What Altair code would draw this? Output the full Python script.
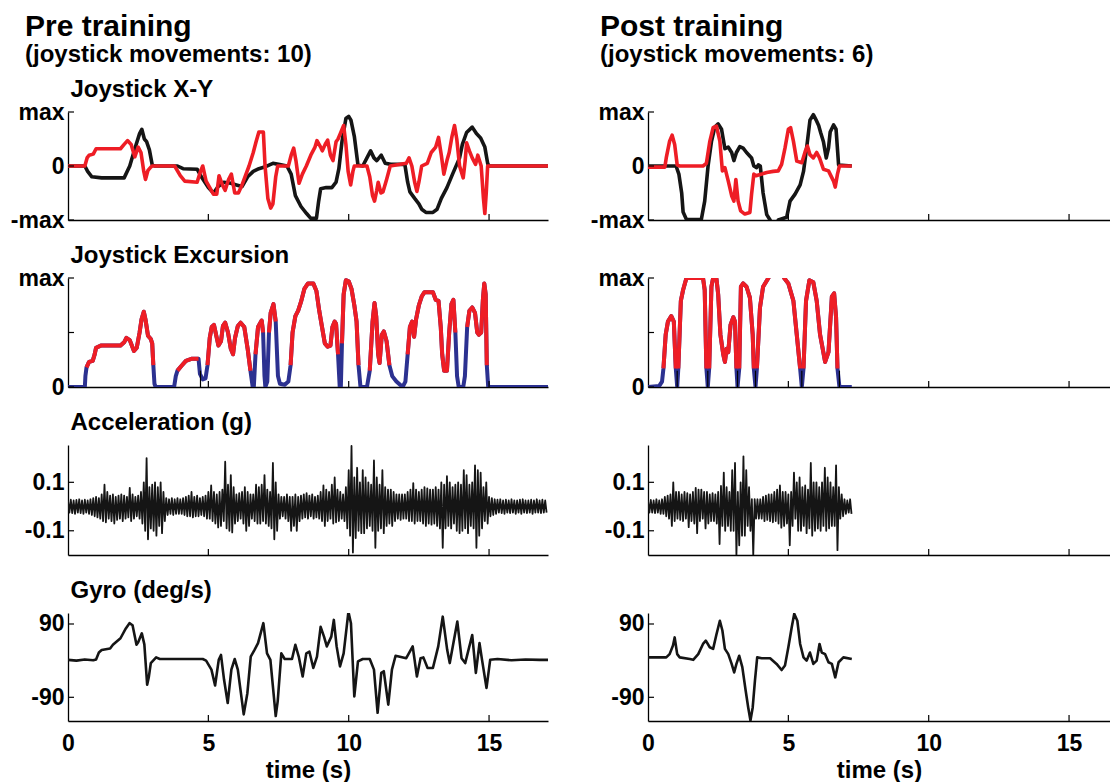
import altair as alt
import pandas as pd

# ---------------- data ----------------
# Joystick X-Y, pre training: black = X, red = Y  (t in s, value in -max..max)
pre_x_t = [0, 0.6, 0.7, 0.85, 1.2, 2.0, 2.2, 2.4, 2.55, 2.63, 2.72, 2.8, 2.9, 3.0, 3.1, 3.9, 4.1, 4.6, 4.75, 5.0,
           5.18, 5.35, 5.55, 5.8, 6.0, 6.2, 6.4, 6.6, 6.8, 7.0, 7.3, 7.5, 7.8, 7.95, 8.1, 8.3, 8.5, 8.65, 8.85, 8.93,
           9.0, 9.2, 9.4, 9.55, 9.65, 9.76, 9.9, 10.0, 10.08, 10.2, 10.33, 10.5, 10.65, 10.78, 10.9, 11.0, 11.16, 11.3,
           11.5, 12.0, 12.1, 12.18, 12.35, 12.5, 12.6, 12.75, 13.0, 13.15, 13.3, 13.5, 13.7, 13.95, 14.05, 14.2, 14.4,
           14.55, 14.7, 14.85, 14.95, 15.0, 17.1]
pre_x_v = [0, 0, -0.1, -0.2, -0.22, -0.22, 0.0, 0.35, 0.6, 0.68, 0.5, 0.45, 0.3, 0.02, 0, 0, -0.05, -0.06, -0.2, -0.4,
           -0.5, -0.38, -0.3, -0.32, -0.35, -0.38, -0.2, -0.1, -0.05, -0.02, 0.05, 0.03, 0.0, -0.15, -0.55, -0.75, -0.88,
           -0.97, -0.97, -0.65, -0.42, -0.4, -0.4, -0.3, -0.05, 0.45, 0.88, 0.92, 0.85, 0.55, 0.02, 0.0, 0.15, 0.28, 0.15,
           0.1, 0.2, 0.05, 0.03, 0.03, -0.3, -0.48, -0.6, -0.7, -0.8, -0.86, -0.86, -0.8, -0.6, -0.4, -0.15, 0.15, 0.4,
           0.62, 0.72, 0.6, 0.52, 0.35, 0.05, 0, 0]
pre_y_t = [0, 0.6, 0.68, 0.75, 0.9, 1.0, 1.87, 2.0, 2.12, 2.25, 2.38, 2.5, 2.6, 2.7, 2.76, 2.85, 2.95, 3.0, 3.8, 4.0,
           4.16, 4.6, 4.72, 4.8, 4.92, 5.05, 5.18, 5.3, 5.38, 5.5, 5.6, 5.72, 5.82, 5.94, 6.07, 6.2, 6.45, 6.6, 6.7,
           6.8, 6.96, 7.02, 7.12, 7.22, 7.3, 7.4, 7.47, 7.85, 7.95, 8.04, 8.12, 8.23, 8.35, 8.49, 8.65, 8.8, 8.87, 9.0,
           9.06, 9.18, 9.25, 9.35, 9.44, 9.55, 9.62, 9.7, 9.82, 9.9, 9.98, 10.07, 10.15, 10.2, 10.65, 10.75, 10.85,
           10.92, 11.0, 11.05, 11.15, 11.22, 11.35, 11.48, 12.05, 12.15, 12.25, 12.35, 12.43, 12.5, 12.6, 12.8, 12.94,
           13.1, 13.2, 13.3, 13.39, 13.5, 13.58, 13.68, 13.77, 13.85, 13.95, 14.08, 14.15, 14.2, 14.3, 14.4, 14.52,
           14.6, 14.72, 14.8, 14.85, 14.9, 14.95, 17.1]
pre_y_v = [0, 0, 0.15, 0.2, 0.22, 0.32, 0.32, 0.4, 0.47, 0.4, 0.17, 0.35, 0.25, -0.1, -0.25, -0.08, -0.02, 0, 0, -0.18,
           -0.28, -0.3, -0.1, 0.0, -0.28, -0.4, -0.52, -0.52, -0.18, -0.35, -0.45, -0.25, -0.15, -0.5, -0.5, -0.35, 0.0,
           0.25, 0.45, 0.63, 0.63, 0.0, -0.6, -0.78, -0.7, -0.2, 0.0, 0.0, 0.2, 0.33, 0.1, -0.32, -0.15, 0.0, 0.2, 0.35,
           0.47, 0.35, 0.28, 0.42, 0.48, 0.2, 0.1, 0.45, 0.5, 0.6, 0.75, 0.4, -0.1, -0.35, -0.1, 0.0, 0.0, -0.2, -0.55,
           -0.65, -0.45, -0.3, -0.5, -0.48, -0.25, 0.0, 0.05, 0.15, 0.0, -0.3, -0.47, -0.3, 0.0, 0.05, 0.25, 0.35, 0.53,
           0.2, -0.15, 0.1, 0.25, 0.55, 0.75, 0.5, 0.0, -0.22, 0.1, 0.43, 0.28, 0.15, 0.03, 0.2, 0.0, -0.6, -0.88, -0.5,
           0.0, 0]

# Joystick X-Y, post training
post_x_t = [0, 1.0, 1.1, 1.2, 1.25, 1.37, 1.9, 2.02, 2.14, 2.26, 2.38, 2.5, 2.62, 2.74, 2.86, 2.98, 3.06, 3.15, 3.27,
            3.39, 3.51, 3.69, 3.77, 3.87, 3.93, 4.0, 4.1, 4.23, 4.35, 4.42, 4.58, 4.64, 4.94, 5.06, 5.24, 5.42, 5.54,
            5.65, 5.77, 5.89, 6.01, 6.08, 6.15, 6.25, 6.35, 6.43, 6.49, 6.61, 6.7, 6.79, 7.26]
post_x_v = [0, 0, -0.15, -0.5, -0.85, -0.99, -0.99, -0.65, 0.0, 0.45, 0.72, 0.78, 0.68, 0.32, 0.35, 0.25, 0.1, 0.25,
            0.36, 0.33, 0.25, 0.15, 0.0, -0.03, 0.02, 0.0, -0.5, -0.9, -1.0, -1.15, -1.15, -1.0, -0.95, -0.65, -0.52,
            -0.35, -0.1, 0.33, 0.85, 0.95, 0.83, 0.75, 0.62, 0.45, 0.15, 0.33, 0.63, 0.76, 0.68, 0.02, 0.0]
post_y_t = [0, 0.6, 0.65, 0.77, 0.86, 0.95, 1.04, 1.13, 1.96, 2.08, 2.2, 2.32, 2.44, 2.56, 2.65, 2.74, 2.86, 2.98,
            3.06, 3.13, 3.21, 3.3, 3.45, 3.63, 3.69, 3.77, 3.85, 4.05, 4.23, 4.46, 4.64, 4.76, 4.88, 5.0, 5.08, 5.18,
            5.3, 5.48, 5.6, 5.68, 5.77, 5.89, 6.01, 6.11, 6.25, 6.43, 6.61, 6.67, 6.75, 6.82, 7.26]
post_y_v = [-0.02, -0.02, 0.15, 0.46, 0.57, 0.4, 0.02, 0.0, 0.0, 0.05, 0.45, 0.71, 0.74, 0.46, -0.09, -0.03, -0.28,
            -0.55, -0.65, -0.25, -0.65, -0.83, -0.89, -0.86, -0.52, -0.15, -0.18, -0.15, -0.12, -0.1, -0.09, 0.03, 0.33,
            0.68, 0.71, 0.46, 0.09, 0.06, 0.27, 0.37, 0.21, 0.15, 0.25, 0.15, -0.06, -0.09, -0.28, -0.39, -0.15, 0.0, 0.0]

# Joystick excursion (0..max)
pre_e_t = [0, 0.6, 0.62, 0.66, 0.75, 0.88, 0.95, 1.0, 1.17, 1.87, 2.0, 2.08, 2.2, 2.35, 2.45, 2.55, 2.62, 2.7, 2.76,
           2.85, 2.95, 3.0, 3.04, 3.08, 3.12, 3.78, 3.84, 3.9, 4.03, 4.2, 4.42, 4.65, 4.7, 4.8, 4.9, 4.97, 5.05, 5.12,
           5.2, 5.3, 5.36, 5.45, 5.52, 5.6, 5.7, 5.8, 5.88, 5.95, 6.05, 6.15, 6.28, 6.4, 6.5, 6.58, 6.62, 6.68, 6.77,
           6.9, 6.95, 7.0, 7.03, 7.1, 7.16, 7.22, 7.32, 7.4, 7.48, 7.55, 7.72, 7.85, 7.93, 8.0, 8.1, 8.2, 8.3, 8.42,
           8.55, 8.74, 8.85, 8.95, 9.05, 9.15, 9.25, 9.35, 9.42, 9.5, 9.55, 9.62, 9.68, 9.72, 9.76, 9.82, 9.9, 10.0,
           10.1, 10.2, 10.28, 10.35, 10.42, 10.65, 10.75, 10.85, 10.92, 10.98, 11.05, 11.1, 11.18, 11.25, 11.35,
           11.45, 11.55, 11.7, 11.92, 12.02, 12.1, 12.18, 12.26, 12.33, 12.4, 12.5, 12.6, 12.7, 13.0, 13.1, 13.2,
           13.28, 13.33, 13.4, 13.5, 13.58, 13.66, 13.73, 13.8, 13.86, 13.92, 14.08, 14.14, 14.22, 14.3, 14.4, 14.5,
           14.58, 14.64, 14.72, 14.78, 14.83, 14.88, 14.92, 14.97, 17.1]
pre_e_v = [0.0, 0.0, 0.1, 0.18, 0.23, 0.24, 0.3, 0.36, 0.38, 0.38, 0.41, 0.45, 0.43, 0.33, 0.36, 0.5, 0.62, 0.69, 0.62,
           0.47, 0.44, 0.4, 0.2, 0.03, 0.0, 0.0, 0.1, 0.15, 0.19, 0.24, 0.26, 0.26, 0.12, 0.07, 0.08, 0.2, 0.45, 0.55,
           0.57, 0.45, 0.38, 0.42, 0.56, 0.59, 0.5, 0.35, 0.3, 0.45, 0.56, 0.59, 0.55, 0.35, 0.15, 0.0, 0.0, 0.3, 0.55,
           0.61, 0.5, 0.1, 0.0, 0.05, 0.5, 0.68, 0.76, 0.6, 0.1, 0.03, 0.02, 0.05, 0.2, 0.5, 0.65, 0.7, 0.78, 0.9, 0.95,
           0.95, 0.88, 0.7, 0.55, 0.4, 0.37, 0.38, 0.55, 0.6, 0.58, 0.3, 0.0, 0.0, 0.4, 0.85, 0.98, 0.97, 0.9, 0.75,
           0.6, 0.2, 0.0, 0.0, 0.15, 0.6, 0.77, 0.65, 0.3, 0.22, 0.48, 0.51, 0.42, 0.2, 0.1, 0.05, 0.0, 0.05, 0.3, 0.55,
           0.6, 0.46, 0.62, 0.75, 0.83, 0.87, 0.87, 0.8, 0.79, 0.55, 0.3, 0.15, 0.15, 0.5, 0.76, 0.8, 0.5, 0.1, 0.0,
           0.0, 0.1, 0.55, 0.7, 0.73, 0.68, 0.5, 0.48, 0.5, 0.8, 0.95, 0.85, 0.2, 0.0, 0.0]
post_e_t = [0, 0.4, 0.5, 0.55, 0.63, 0.71, 0.83, 0.92, 0.99, 1.04, 1.08, 1.17, 1.25, 1.37, 1.96, 2.02, 2.08, 2.13,
            2.18, 2.26, 2.32, 2.44, 2.5, 2.58, 2.68, 2.74, 2.8, 2.86, 2.94, 3.04, 3.1, 3.15, 3.19, 3.25, 3.31, 3.39,
            3.51, 3.63, 3.73, 3.77, 3.83, 3.88, 3.99, 4.1, 4.29, 4.4, 4.75, 4.85, 5.0, 5.18, 5.3, 5.42, 5.48, 5.54,
            5.63, 5.75, 5.89, 6.01, 6.13, 6.31, 6.43, 6.55, 6.63, 6.7, 6.75, 6.82, 7.26]
post_e_v = [0.0, 0.01, 0.05, 0.17, 0.48, 0.6, 0.65, 0.6, 0.17, 0.0, 0.17, 0.79, 0.89, 1.0, 1.0, 0.89, 0.17, 0.0, 0.17,
            0.92, 1.0, 0.99, 0.85, 0.48, 0.3, 0.23, 0.35, 0.32, 0.57, 0.64, 0.6, 0.17, 0.0, 0.17, 0.92, 0.95, 0.92,
            0.82, 0.48, 0.17, 0.0, 0.17, 0.73, 0.92, 1.0, 1.08, 1.08, 1.0, 0.95, 0.79, 0.48, 0.17, 0.0, 0.17, 0.79,
            0.98, 0.96, 0.79, 0.48, 0.23, 0.32, 0.83, 0.86, 0.64, 0.17, 0.0, 0.0]
pre_marks = [4.72]
post_marks = [1.04, 2.13, 3.19, 3.83, 5.48, 6.82]

# Acceleration (g): upper / lower excursion of the trace, one pair per 0.1 s
pre_acc_hi = [0.025, 0.028, 0.025, 0.027, 0.03, 0.025, 0.028, 0.025, 0.03, 0.035,
              0.04, 0.035, 0.05, 0.09, 0.06, 0.045, 0.05, 0.04, 0.045, 0.05,
              0.045, 0.04, 0.077, 0.05, 0.04, 0.045, 0.06, 0.1, 0.2, 0.08,
              0.09, 0.1, 0.08, 0.1, 0.06, 0.035, 0.03, 0.035, 0.03, 0.035,
              0.03, 0.035, 0.04, 0.045, 0.06, 0.04, 0.045, 0.035, 0.04, 0.045,
              0.06, 0.087, 0.06, 0.05, 0.06, 0.07, 0.185, 0.09, 0.13, 0.08,
              0.05, 0.055, 0.06, 0.08, 0.06, 0.05, 0.05, 0.09, 0.08, 0.09,
              0.13, 0.07, 0.06, 0.18, 0.1, 0.05, 0.04, 0.04, 0.05, 0.04,
              0.04, 0.05, 0.04, 0.045, 0.05, 0.055, 0.045, 0.05, 0.04, 0.045,
              0.06, 0.087, 0.07, 0.06, 0.09, 0.12, 0.07, 0.06, 0.05, 0.08,
              0.15, 0.25, 0.12, 0.16, 0.1, 0.15, 0.12, 0.1, 0.09, 0.19,
              0.12, 0.09, 0.15, 0.08, 0.07, 0.07, 0.06, 0.05, 0.05, 0.05,
              0.05, 0.06, 0.07, 0.097, 0.07, 0.06, 0.07, 0.08, 0.075, 0.07,
              0.07, 0.08, 0.07, 0.1, 0.09, 0.125, 0.1, 0.08, 0.09, 0.1,
              0.09, 0.15, 0.13, 0.09, 0.1, 0.17, 0.15, 0.14, 0.08, 0.1,
              0.04, 0.035, 0.03, 0.028, 0.03, 0.025, 0.028, 0.025, 0.03, 0.025,
              0.025, 0.028, 0.03, 0.025, 0.025, 0.028, 0.025, 0.03, 0.025, 0.028, 0.025]
pre_acc_lo = [-0.025, -0.027, -0.03, -0.025, -0.027, -0.03, -0.025, -0.03, -0.035, -0.04,
              -0.045, -0.05, -0.06, -0.065, -0.05, -0.06, -0.07, -0.055, -0.05, -0.06,
              -0.05, -0.045, -0.06, -0.05, -0.04, -0.05, -0.07, -0.1, -0.135, -0.09,
              -0.1, -0.12, -0.08, -0.11, -0.06, -0.035, -0.03, -0.035, -0.03, -0.03,
              -0.03, -0.035, -0.04, -0.04, -0.045, -0.04, -0.04, -0.035, -0.04, -0.05,
              -0.05, -0.06, -0.07, -0.086, -0.08, -0.06, -0.09, -0.1, -0.107, -0.07,
              -0.06, -0.05, -0.07, -0.1, -0.08, -0.05, -0.06, -0.07, -0.07, -0.06,
              -0.07, -0.08, -0.09, -0.135, -0.1, -0.05, -0.04, -0.05, -0.06, -0.1,
              -0.08, -0.1, -0.06, -0.05, -0.045, -0.05, -0.04, -0.05, -0.045, -0.05,
              -0.06, -0.08, -0.06, -0.05, -0.07, -0.065, -0.06, -0.05, -0.06, -0.09,
              -0.12, -0.19, -0.13, -0.1, -0.11, -0.11, -0.09, -0.08, -0.1, -0.17,
              -0.1, -0.09, -0.11, -0.08, -0.07, -0.08, -0.06, -0.05, -0.055, -0.05,
              -0.05, -0.06, -0.06, -0.07, -0.06, -0.06, -0.07, -0.08, -0.07, -0.075,
              -0.07, -0.08, -0.09, -0.17, -0.09, -0.08, -0.09, -0.07, -0.1, -0.11,
              -0.1, -0.09, -0.11, -0.08, -0.09, -0.17, -0.12, -0.09, -0.06, -0.07,
              -0.04, -0.035, -0.03, -0.025, -0.027, -0.03, -0.025, -0.027, -0.025, -0.03,
              -0.025, -0.03, -0.025, -0.027, -0.025, -0.03, -0.025, -0.025, -0.027, -0.025, -0.025]
post_acc_hi = [0.025, 0.027, 0.025, 0.03, 0.025, 0.03, 0.04, 0.045, 0.05, 0.1,
               0.06, 0.06, 0.05, 0.06, 0.055, 0.05, 0.06, 0.077, 0.07, 0.07,
               0.06, 0.06, 0.05, 0.055, 0.05, 0.06, 0.085, 0.14, 0.08, 0.06,
               0.15, 0.18, 0.06, 0.1, 0.207, 0.15, 0.08, 0.03, 0.03, 0.03,
               0.03, 0.04, 0.045, 0.05, 0.05, 0.06, 0.07, 0.087, 0.06, 0.06,
               0.05, 0.06, 0.14, 0.1, 0.12, 0.08, 0.087, 0.07, 0.18, 0.1,
               0.1, 0.08, 0.1, 0.16, 0.12, 0.1, 0.08, 0.17, 0.08, 0.05,
               0.03, 0.025, 0.03]
post_acc_lo = [-0.025, -0.025, -0.027, -0.025, -0.03, -0.03, -0.04, -0.05, -0.08, -0.06,
               -0.05, -0.055, -0.06, -0.05, -0.085, -0.06, -0.07, -0.11, -0.06, -0.05,
               -0.09, -0.07, -0.06, -0.06, -0.07, -0.155, -0.08, -0.1, -0.08, -0.1,
               -0.1, -0.2, -0.16, -0.12, -0.12, -0.08, -0.1, -0.2, -0.05, -0.05,
               -0.05, -0.06, -0.055, -0.06, -0.065, -0.06, -0.07, -0.087, -0.08, -0.07,
               -0.16, -0.08, -0.05, -0.1, -0.1, -0.08, -0.11, -0.09, -0.12, -0.1,
               -0.09, -0.1, -0.08, -0.1, -0.09, -0.08, -0.08, -0.18, -0.05, -0.04,
               -0.03, -0.025, -0.03]
acc_step = 0.1

# Gyro (deg/s)
pre_g_t = [0, 0.3, 0.6, 0.9, 1.0, 1.1, 1.2, 1.5, 1.6, 1.87, 2.06, 2.19, 2.3, 2.44, 2.5, 2.63, 2.72, 2.82, 2.88, 2.95,
           3.14, 3.27, 4.8, 4.92, 5.11, 5.24, 5.37, 5.45, 5.56, 5.69, 5.82, 5.94, 6.05, 6.26, 6.39, 6.51, 6.64, 6.77,
           6.96, 7.09, 7.21, 7.4, 7.47, 7.6, 7.72, 7.98, 8.1, 8.22, 8.36, 8.49, 8.6, 8.74, 8.87, 9.0, 9.12, 9.22, 9.38,
           9.47, 9.57, 9.69, 9.82, 9.99, 10.08, 10.2, 10.33, 10.5, 10.75, 10.9, 11.03, 11.16, 11.25, 11.41, 11.54,
           11.67, 12.05, 12.28, 12.43, 12.56, 12.66, 12.81, 13.0, 13.19, 13.35, 13.51, 13.6, 13.87, 14.02, 14.15, 14.4,
           14.53, 14.66, 14.75, 14.91, 15.04, 15.3, 15.8, 16.3, 16.8, 17.1]
pre_g_v = [2, 0, 3, 1, 3, 20, 26, 30, 39, 55, 79, 92, 87, 39, 45, 67, 40, -59, -40, -6,
           8, 4, 4, 0, -22, -61, 2, 14, -47, -104, -22, 4, -22, -132, -80, 10, 26, 43,
           92, 18, 2, -136, -100, 18, 4, 4, 39, 10, -39, 18, 22, -18, 10, 83, 59, 35, 59,
           100, 35, -14, 18, 120, 92, -88, -2, 4, 4, -22, -128, -30, -26, -108, -22,
           12, 6, 35, -39, 6, 8, -18, -18, 35, 108, 26, -6, 96, 6, -6, 63,
           -30, 43, 2, -67, 2, 4, 1, 3, 2, 2]
post_g_t = [0, 0.65, 0.77, 0.89, 0.95, 1.04, 1.13, 1.49, 1.61, 1.79, 1.96, 2.06, 2.2, 2.32, 2.44, 2.56, 2.65, 2.74,
            2.86, 2.98, 3.07, 3.15, 3.25, 3.36, 3.48, 3.57, 3.65, 3.73, 3.81, 3.89, 4.05, 4.35, 4.58, 4.76, 4.88, 5.0,
            5.12, 5.21, 5.32, 5.42, 5.54, 5.65, 5.77, 5.89, 6.01, 6.11, 6.19, 6.31, 6.43, 6.55, 6.67, 6.79, 6.96, 7.26]
post_g_v = [8, 8, 16, 37, 57, 16, 8, 4, 2, 16, 41, 49, 33, 29, 65, 98, 74, 29,
            16, -8, -29, -8, 12, -16, -74, -115, -147, -115, -49, 8, 6, 6, -8, -23, -12, 33,
            82, 115, 98, 41, 8, 0, 20, -8, 0, 41, 20, 16, -4, -8, -41, -4, 8, 4]

# axis ticks / labels
x_ticks = [0, 5, 10, 15]
xy_ticks = [-1, 0, 1]
exc_ticks = [0, 0.5, 1]
acc_ticks = [-0.1, 0.1]
gyro_ticks = [-90, 90]

# ---------------- styling ----------------
FONT = "Liberation Sans"
RED = "#EE1D25"
BLUE = "#2C3190"
INK = "#151515"
W_LEFT = 480
XMAX_LEFT = 17.1
W_RIGHT = 462                                 # the right column is cut by the picture edge
XMAX_RIGHT = XMAX_LEFT * W_RIGHT / W_LEFT
SIZES = {"xy": 108, "exc": 109, "acc": 110, "gyro": 108}
DOMAINS = {"xy": [-1, 1], "exc": [0, 1], "acc": [-0.2, 0.254], "gyro": [-148.2, 117]}
EXPRS = {
    "xy": "datum.value == 1 ? 'max' : datum.value == -1 ? '-max' : '0'",
    "exc": "datum.value == 1 ? 'max' : '0'",
    "acc": "datum.value > 0 ? '0.1' : '-0.1'",
    "gyro": "datum.value > 0 ? '90' : '-90'",
}
TICKS = {"xy": xy_ticks, "exc": exc_ticks, "acc": acc_ticks, "gyro": gyro_ticks}
LABELLED = {"xy": xy_ticks, "exc": [0, 1], "acc": acc_ticks, "gyro": gyro_ticks}
TITLES = {"xy": "Joystick X-Y", "exc": "Joystick Excursion", "acc": "Acceleration (g)", "gyro": "Gyro (deg/s)"}
LABEL_SIZE = 23
TITLE_SIZE = 24


def x_enc(show, xmax):
    ax = dict(values=x_ticks, labels=show, ticks=False, domain=True, domainColor="#000", domainWidth=1.3,
              grid=False, labelFont=FONT, labelFontSize=LABEL_SIZE, labelFontWeight="bold", labelColor="#000",
              labelPadding=11, labelFlush=False)
    if show:
        ax.update(title="time (s)", titleFont=FONT, titleFontSize=TITLE_SIZE, titleFontWeight="bold",
                  titleColor="#000", titlePadding=3)
    else:
        ax.update(title=None)
    return alt.X("t:Q", scale=alt.Scale(domain=[0, xmax], nice=False, zero=False), axis=alt.Axis(**ax))


def y_enc(kind, show_title):
    ax = alt.Axis(values=LABELLED[kind], labelExpr=EXPRS[kind], ticks=False, domain=True, domainColor="#000",
                  domainWidth=1.3, grid=False, labelFont=FONT, labelFontSize=LABEL_SIZE, labelFontWeight="bold",
                  labelColor="#000", labelPadding=4, labelFlush=False, title=TITLES[kind], titleAngle=0,
                  titleAlign="left", titleBaseline="alphabetic", titleX=2, titleY=-16, titleFont=FONT,
                  titleFontSize=TITLE_SIZE, titleFontWeight="bold", titleColor="#000",
                  titleOpacity=1 if show_title else 0)
    return alt.Y("v:Q", scale=alt.Scale(domain=DOMAINS[kind], nice=False, zero=False), axis=ax)


def frame(t, v):
    return pd.DataFrame({"t": t, "v": v})


def red_runs(t, v, thr=0.15):
    rows, seg, prev = [], 0, False
    for ti, vi in zip(t, v):
        on = vi >= thr
        if on:
            if not prev:
                seg += 1
            rows.append({"t": ti, "v": vi, "seg": seg})
        prev = on
    return pd.DataFrame(rows)


def zigzag(hi, lo):
    t, v = [], []
    for i, (a, b) in enumerate(zip(hi, lo)):
        t += [i * acc_step, i * acc_step + acc_step / 2]
        v += [a, b]
    return frame(t, v)


def column(name, sub, dx, xt, xv, yt, yv, et, ev, marks, ahi, alo, gt, gv, titles, width, xmax):
    def line(df, kind, show_x, color, sw, detail=None):
        enc = dict(x=x_enc(show_x, xmax), y=y_enc(kind, titles))
        if detail:
            enc["detail"] = detail
        return alt.Chart(df).mark_line(color=color, strokeWidth=sw, clip=True,
                                       strokeJoin="round", strokeCap="butt").encode(**enc)

    def ticks(kind, show_x):
        h = SIZES[kind]
        yt_ = alt.Chart(pd.DataFrame({"v": TICKS[kind]})).mark_rule(color="#000", strokeWidth=1.2).encode(
            y=y_enc(kind, titles), x=alt.value(0), x2=alt.value(6))
        xt_ = alt.Chart(pd.DataFrame({"t": x_ticks[1:]})).mark_rule(color="#000", strokeWidth=1.2).encode(
            x=x_enc(show_x, xmax), y=alt.value(h), y2=alt.value(h - 6))
        return [yt_, xt_]

    xy = alt.layer(
        line(frame(xt, xv), "xy", False, INK, 3.6),
        line(frame(yt, yv), "xy", False, RED, 3.6),
        *ticks("xy", False),
    ).properties(width=width, height=SIZES["xy"], title=alt.TitleParams(
        text=name, subtitle=sub, anchor="start", frame="group", dx=dx, offset=10,
        font=FONT, fontSize=30, fontWeight="bold", color="#000",
        subtitleFont=FONT, subtitleFontSize=24, subtitleFontWeight="bold", subtitleColor="#000",
        subtitlePadding=1))
    mk = pd.DataFrame({"t": marks, "v": [0] * len(marks), "v2": [0.15] * len(marks)})
    exc = alt.layer(
        line(frame(et, ev), "exc", False, BLUE, 4),
        line(red_runs(et, ev), "exc", False, RED, 4, detail="seg:N"),
        alt.Chart(mk).mark_rule(color="#000", strokeWidth=1.2).encode(
            x=x_enc(False, xmax), y=y_enc("exc", titles), y2="v2:Q"),
        *ticks("exc", False),
    ).properties(width=width, height=SIZES["exc"])
    acc = alt.layer(
        line(zigzag(ahi, alo), "acc", False, INK, 1.8),
        *ticks("acc", False),
    ).properties(width=width, height=SIZES["acc"])
    gy = alt.layer(
        line(frame(gt, gv), "gyro", True, INK, 2.6),
        *ticks("gyro", True),
    ).properties(width=width, height=SIZES["gyro"])
    return [xy, exc, acc, gy]


left = column("Pre training", "(joystick movements: 10)", -43, pre_x_t, pre_x_v, pre_y_t, pre_y_v,
              pre_e_t, pre_e_v, pre_marks, pre_acc_hi, pre_acc_lo, pre_g_t, pre_g_v, True, W_LEFT, XMAX_LEFT)
right = column("Post training", "(joystick movements: 6)", -48, post_x_t, post_x_v, post_y_t, post_y_v,
               post_e_t, post_e_v, post_marks, post_acc_hi, post_acc_lo, post_g_t, post_g_v, False,
               W_RIGHT, XMAX_RIGHT)

panels = []
for a, b in zip(left, right):
    panels += [a, b]

chart = alt.concat(*panels, columns=2, spacing={"row": 58, "column": 100}, bounds="flush").properties(
    padding={"left": 2, "top": 4, "right": 0, "bottom": 0}, background="white"
).configure_view(stroke=None)

chart.save("out.html", embed_options={"renderer": "svg", "actions": False})
